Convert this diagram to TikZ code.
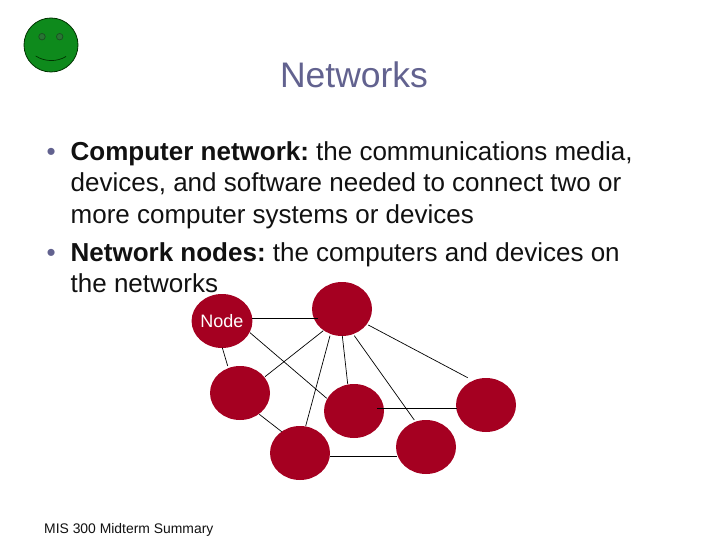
\documentclass[tikz,border=0pt]{standalone}
\usepackage{fontspec}
\setmainfont{Liberation Sans}
\usetikzlibrary{shapes.geometric}
\definecolor{nodered}{HTML}{A50021}
\definecolor{titleblue}{HTML}{62628F}
\definecolor{smile}{HTML}{0E8A1C}
\definecolor{eyegreen}{HTML}{2A7435}
\definecolor{eyeline}{HTML}{1A4F22}
\definecolor{bodyblack}{HTML}{111111}
\tikzset{
  netnode/.style={ellipse,fill=nodered,draw=none,minimum width=60pt,minimum height=54pt,inner sep=0pt,text=white,font=\fontsize{18}{20}\selectfont},
  link/.style={draw=black,line width=0.7pt},
  bodyline/.style={anchor=base west,inner sep=0pt,text=bodyblack,font=\fontsize{26}{30}\selectfont},
  bulletmark/.style={anchor=base west,inner sep=0pt,text=titleblue,font=\fontsize{26}{30}\selectfont},
  eye/.style={circle,fill=eyegreen,draw=eyeline,line width=0.7pt,minimum size=6.5pt,inner sep=0pt},
}
\begin{document}
\begin{tikzpicture}[x=1pt,y=-1pt]
\useasboundingbox (0,0) rectangle (720,540);
\fill[white] (0,0) rectangle (720,540);
% smiley
\node[circle,fill=smile,draw=black!80!green,line width=0.8pt,minimum size=54pt,inner sep=0pt] (face) at (51,45) {};
\node[eye] (eyeL) at (42,36.7) {};
\node[eye] (eyeR) at (59.7,36.7) {};
\draw[line width=0.7pt,black!80!green] ([shift={(-15.3,11)}]face.center) .. controls ([shift={(-6,17)}]face.center) and ([shift={(6,17)}]face.center) .. ([shift={(15,11.5)}]face.center);
% title
\node[anchor=base,inner sep=0pt,text=titleblue,font=\fontsize{35.5}{40}\selectfont] (title) at (354,88) {Networks};
% body
\node[bulletmark] (b1) at (46.5,161) {•};
\node[bodyline] (l1) at (70.5,161) {\textbf{Computer network:}\kern-2.5pt{} the communications media,};
\node[bodyline] (l2) at (70.5,192) {devices, and software needed to connect two or};
\node[bodyline] (l3) at (70.5,223) {more computer systems or devices};
\node[bulletmark] (b2) at (46.5,261) {•};
\node[bodyline] (l4) at (70.5,261) {\textbf{Network nodes:}\kern-2.5pt{} the computers and devices on};
\node[bodyline] (l5) at (70.5,292) {the networks};
% nodes
\node[netnode] (n) at (222,321) {Node};
\node[netnode] (top) at (342,309) {};
\node[netnode] (left) at (240,393) {};
\node[netnode] (mid) at (354,411) {};
\node[netnode] (right) at (486,405) {};
\node[netnode] (bot) at (300,453) {};
\node[netnode] (br) at (426,447) {};
% connectors
\draw[link] ([shift={(30,-3)}]n.center) -- ([shift={(-24,9)}]top.center);
\draw[link] ([shift={(0.3,26.7)}]n.center) -- ([shift={(-12.3,-27)}]left.center);
\draw[link] ([shift={(28,11.7)}]n.center) -- ([shift={(-27.3,-12.7)}]mid.center);
\draw[link] ([shift={(-18.7,21.7)}]top.center) -- ([shift={(25,-16.3)}]left.center);
\draw[link] ([shift={(-12,26.7)}]top.center) -- ([shift={(5.7,-27)}]bot.center);
\draw[link] ([shift={(0.3,26.7)}]top.center) -- ([shift={(-6.3,-27)}]mid.center);
\draw[link] ([shift={(12.3,26.7)}]top.center) -- ([shift={(-11.7,-27)}]br.center);
\draw[link] ([shift={(26.3,16)}]top.center) -- ([shift={(-18.3,-27.3)}]right.center);
\draw[link] ([shift={(19.3,21.3)}]left.center) -- ([shift={(-18.3,-21.3)}]bot.center);
\draw[link] ([shift={(23.3,-3)}]mid.center) -- ([shift={(-29.3,3)}]right.center);
\draw[link] ([shift={(30,3.3)}]bot.center) -- ([shift={(-29.3,9.3)}]br.center);
% footer
\node[anchor=base west,inner sep=0pt,text=bodyblack,font=\fontsize{13.9}{16}\selectfont] (foot) at (44,533) {MIS 300 Midterm Summary};
\end{tikzpicture}
\end{document}
